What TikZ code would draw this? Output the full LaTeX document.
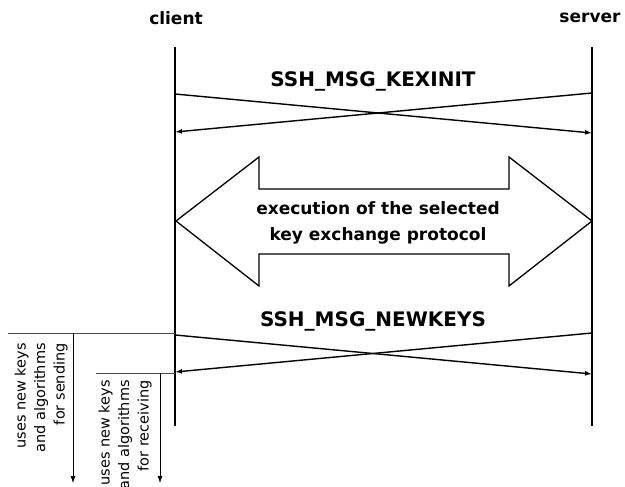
\documentclass[tikz,border=0pt]{standalone}
\usepackage{fontspec}
\setmainfont{DejaVu Sans}
\usetikzlibrary{arrows.meta}
\tikzset{
  lifeline/.style={line width=2pt},
  msg/.style={line width=1.4pt,-{Latex[length=7pt,width=5pt]}},
  ttl/.style={font=\fontsize{17}{20}\selectfont\bfseries, inner sep=0pt},
  msglbl/.style={font=\fontsize{20}{22}\selectfont\bfseries, inner sep=0pt},
  biglbl/.style={font=\fontsize{17}{26}\selectfont\bfseries, inner sep=0pt, align=center},
  note/.style={font=\fontsize{14.5}{19.5}\selectfont, inner sep=0pt, align=right, rotate=90, anchor=east},
  guide/.style={draw=black!70, line width=0.8pt},
  guidearrow/.style={line width=0.8pt,-{Latex[length=7pt,width=5pt]}},
  bigarrow/.style={draw, line width=1.3pt, fill=white, line join=miter}
}
\begin{document}
\begin{tikzpicture}[x=1pt,y=-1pt]
\useasboundingbox (0,0) rectangle (625,487);
% headers
\node[ttl] (client) at (176,18) {client};
\node[ttl] (server) at (590,18) {server};
% lifelines
\coordinate (ctop) at (175,47);
\coordinate (cbot) at (175,426);
\coordinate (stop) at (592,47);
\coordinate (sbot) at (592,426);
\draw[lifeline] (ctop) -- (cbot);
\draw[lifeline] (stop) -- (sbot);
% KEXINIT
\node[msglbl] (kex) at (373,81) {SSH\_MSG\_KEXINIT};
\coordinate (k1s) at (175,94);
\coordinate (k1e) at (592,133);
\coordinate (k2s) at (592,93);
\coordinate (k2e) at (175,132);
\draw[msg] (k1s) -- (k1e);
\draw[msg] (k2s) -- (k2e);
% big double arrow
\draw[bigarrow] (176,221) -- (259,157) -- (259,189) -- (509,189) -- (509,157) -- (592,221)
  -- (509,286) -- (509,254) -- (259,254) -- (259,286) -- cycle;
\node[biglbl] (exec) at (378,223) {execution of the selected\\key exchange protocol};
% NEWKEYS
\node[msglbl] (newk) at (373,321) {SSH\_MSG\_NEWKEYS};
\coordinate (n1s) at (175,335);
\coordinate (n1e) at (592,374);
\coordinate (n2s) at (592,333);
\coordinate (n2e) at (175,372);
\draw[msg] (n1s) -- (n1e);
\draw[msg] (n2s) -- (n2e);
% left annotations
\coordinate (g1a) at (8,333);
\coordinate (g1b) at (175,333);
\coordinate (a1s) at (73,333);
\coordinate (a1e) at (73,483);
\draw[guide] (g1a) -- (g1b);
\draw[guidearrow] (a1s) -- (a1e);
\coordinate (g2a) at (96,373);
\coordinate (g2b) at (175,373);
\coordinate (a2s) at (160,373);
\coordinate (a2e) at (160,483);
\draw[guide] (g2a) -- (g2b);
\draw[guidearrow] (a2s) -- (a2e);
\node[note] (send) at (41,343) {uses new keys\\and algorithms\\for sending};
\node[note] (recv) at (125,380) {uses new keys\\and algorithms\\for receiving};
\end{tikzpicture}
\end{document}
